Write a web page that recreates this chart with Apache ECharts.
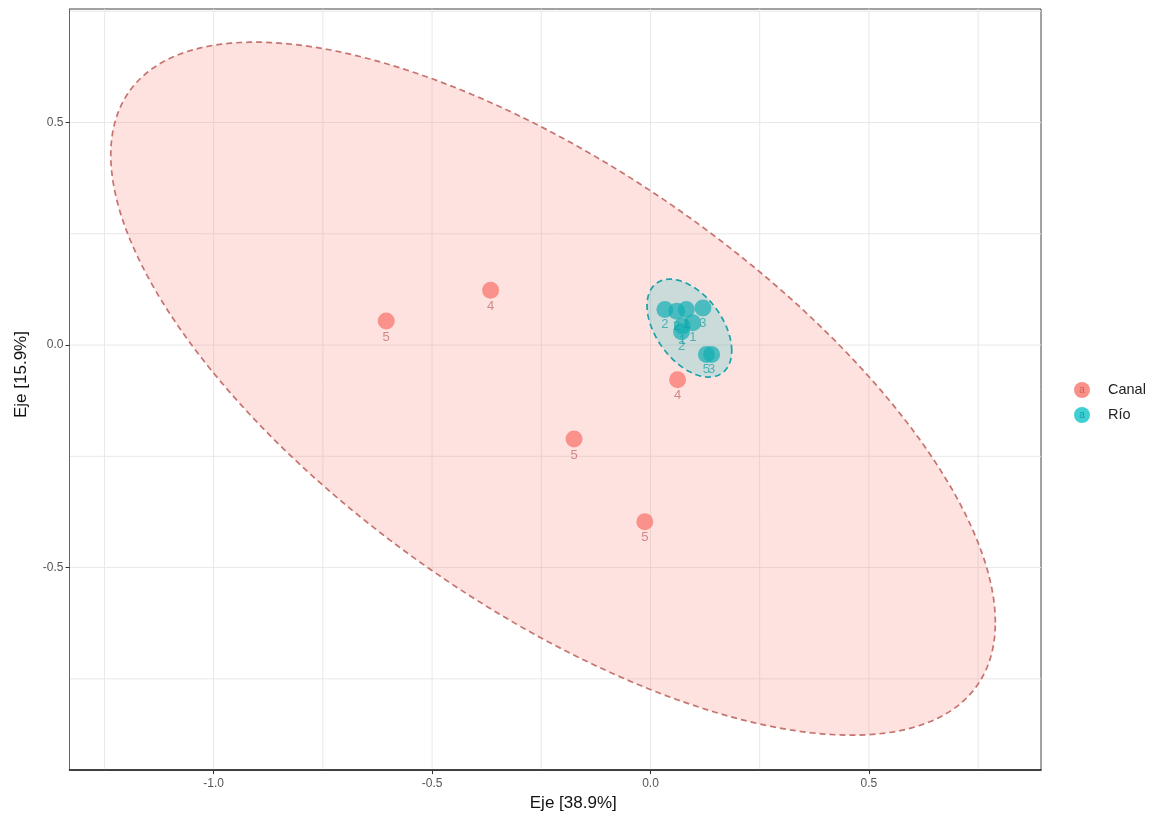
<!DOCTYPE html>
<html>
<head>
<meta charset="utf-8">
<script src="https://cdn.jsdelivr.net/npm/echarts@6/dist/echarts.min.js"></script>
<style>
html,body{margin:0;padding:0;background:#fff;}
#chart{width:1150px;height:817px;}
</style>
</head>
<body>
<div id="chart"></div>
<script>
// ---- data ----
const groups = ['Canal', 'Río'];
// [x, y, label]
const canalPoints = [
  [-0.605, 0.054, '5'],
  [-0.366, 0.123, '4'],
  [0.062, -0.078, '4'],
  [-0.175, -0.211, '5'],
  [-0.013, -0.397, '5']
];
const rioPoints = [
  [0.033, 0.080, '2'],
  [0.060, 0.076, '2'],
  [0.082, 0.080, '1'],
  [0.120, 0.083, '3'],
  [0.073, 0.043, '1'],
  [0.097, 0.050, '1'],
  [0.071, 0.030, '2'],
  [0.128, -0.021, '5'],
  [0.140, -0.021, '3']
];
// ellipse: [centerX, centerY, Sxx, Sxy, Syy] (shape matrix)
const canalEllipse = [-0.223, -0.098, 1.0252, -0.532, 0.6061];
const rioEllipse = [0.089, 0.038, 0.0094, -0.0049, 0.0121];
const xTicks = [-1.0, -0.5, 0.0, 0.5];
const yTicks = [-0.5, 0.0, 0.5];
const gridX = [-1.25, -1.0, -0.75, -0.5, -0.25, 0, 0.25, 0.5, 0.75];
const gridY = [-0.75, -0.5, -0.25, 0, 0.25, 0.5, 0.75];
const xRange = [-1.330, 0.894];
const yRange = [-0.955, 0.755];
const xTitle = 'Eje [38.9%]';
const yTitle = 'Eje [15.9%]';

const colCanal = '#F8766D', colRio = '#00BFC4';

const chart = echarts.init(document.getElementById('chart'), null, {renderer: 'canvas'});

const gridData = gridX.map(v => [v, 0, 0]).concat(gridY.map(v => [0, v, 1]));

function gridRender(params, api) {
  const t = api.value(2);
  let p1, p2;
  if (t === 0) {
    p1 = api.coord([api.value(0), yRange[0]]);
    p2 = api.coord([api.value(0), yRange[1]]);
  } else {
    p1 = api.coord([xRange[0], api.value(1)]);
    p2 = api.coord([xRange[1], api.value(1)]);
  }
  return {type: 'line', shape: {x1: p1[0], y1: p1[1], x2: p2[0], y2: p2[1]},
    style: {stroke: '#E8E8E8', lineWidth: 1}};
}

function ellipseRender(fill, stroke) {
  return function (params, api) {
    const cx = api.value(0), cy = api.value(1);
    const sxx = api.value(2), sxy = api.value(3), syy = api.value(4);
    const l11 = Math.sqrt(sxx), l21 = sxy / l11, l22 = Math.sqrt(syy - l21 * l21);
    const pts = [];
    for (let i = 0; i < 200; i++) {
      const t = i / 200 * Math.PI * 2;
      const c = Math.cos(t), s = Math.sin(t);
      pts.push(api.coord([cx + l11 * c, cy + l21 * c + l22 * s]));
    }
    return {type: 'polygon', shape: {points: pts},
      style: {fill: fill, stroke: stroke, lineWidth: 1.7, lineDash: [6, 4]}};
  };
}

const option = {
  animation: false,
  grid: {left: 69.5, right: 109, top: 9, bottom: 46, show: true, borderColor: '#444', borderWidth: 1, backgroundColor: 'transparent'},
  xAxis: {
    type: 'value', min: xRange[0], max: xRange[1],
    name: xTitle, nameLocation: 'middle', nameGap: 24,
    nameTextStyle: {fontSize: 17, color: '#111', fontFamily: 'Liberation Sans', padding: [0, 0, 0, 36]},
    axisLine: {show: true, onZero: false, lineStyle: {color: '#222', width: 1.5}},
    axisTick: {show: true, length: 4, lineStyle: {color: '#333'}, customValues: xTicks},
    axisLabel: {color: '#555', fontSize: 12, margin: 8, fontFamily: 'Liberation Sans', customValues: xTicks,
      formatter: v => v.toFixed(1)},
    splitLine: {show: false}
  },
  yAxis: {
    type: 'value', min: yRange[0], max: yRange[1],
    name: yTitle, nameLocation: 'middle', nameGap: 40,
    nameTextStyle: {fontSize: 17, color: '#111', fontFamily: 'Liberation Sans', padding: [0, 0, 0, 30]},
    axisLine: {show: true, onZero: false, lineStyle: {color: '#666', width: 1}},
    axisTick: {show: true, length: 4, lineStyle: {color: '#333'}, customValues: yTicks},
    axisLabel: {color: '#555', fontSize: 12, margin: 6, fontFamily: 'Liberation Sans', customValues: yTicks,
      formatter: v => v.toFixed(1)},
    splitLine: {show: false}
  },
  legend: {
    orient: 'vertical', left: 1069, top: 377, itemWidth: 16, itemHeight: 16, itemGap: 9,
    icon: 'circle',
    textStyle: {fontSize: 14.5, color: '#222', fontFamily: 'Liberation Sans', padding: [0, 0, 0, 13]},
    data: groups
  },
  graphic: [
    {type: 'text', x: 1082, y: 390, silent: true, z: 100,
      style: {text: 'a', fontSize: 10, fill: '#d0625b', fontFamily: 'Liberation Sans', align: 'center', verticalAlign: 'middle'}},
    {type: 'text', x: 1082, y: 415, silent: true, z: 100,
      style: {text: 'a', fontSize: 10, fill: '#12a2a7', fontFamily: 'Liberation Sans', align: 'center', verticalAlign: 'middle'}}
  ],
  series: [
    {type: 'custom', name: 'grid', silent: true, z: 0, renderItem: gridRender, data: gridData, clip: true},
    {type: 'custom', name: 'Canal', silent: true, z: 1, clip: true,
      itemStyle: {color: 'rgba(248,118,109,0.8)'},
      renderItem: ellipseRender('rgba(248,118,109,0.21)', '#C6746F'), data: [canalEllipse]},
    {type: 'custom', name: 'Río', silent: true, z: 1, clip: true,
      itemStyle: {color: 'rgba(0,191,196,0.75)'},
      renderItem: ellipseRender('rgba(0,191,196,0.2)', '#1BA3A8'), data: [rioEllipse]},
    {type: 'scatter', name: 'Canal', z: 3, symbolSize: 17,
      itemStyle: {color: colCanal, opacity: 0.75},
      label: {show: true, position: 'bottom', distance: 1, formatter: p => p.value[2],
        color: '#C46A65', fontSize: 13, fontFamily: 'Liberation Sans'},
      data: canalPoints},
    {type: 'scatter', name: 'Río', z: 3, symbolSize: 17,
      itemStyle: {color: '#14AFB3', opacity: 0.7},
      label: {show: true, position: 'bottom', distance: 0, formatter: p => p.value[2],
        color: '#149FA4', fontSize: 13, fontFamily: 'Liberation Sans'},
      data: rioPoints}
  ]
};
chart.setOption(option);
</script>
</body>
</html>
